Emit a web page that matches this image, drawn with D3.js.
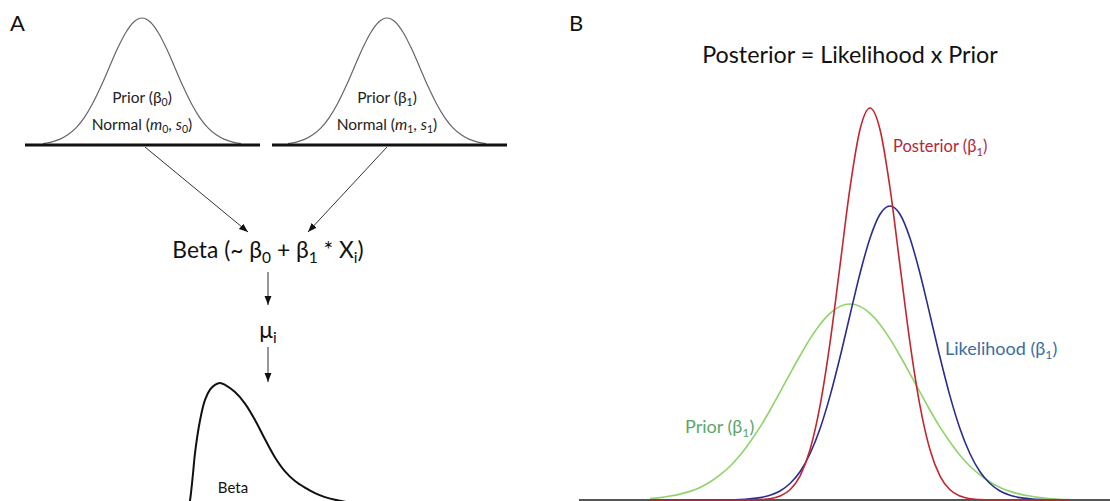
<!DOCTYPE html>
<html>
<head>
<meta charset="utf-8">
<script src="https://cdn.jsdelivr.net/npm/d3@7"></script>
<style>
  html, body { margin: 0; padding: 0; background: #fff; }
  svg { display: block; font-family: Lato, 'Open Sans', sans-serif; }
</style>
</head>
<body>
<svg id="chart"></svg>
<script>
var betaGrid = [-2.5, -2.375, -2.25, -2.125, -2, -1.875, -1.75, -1.625, -1.5, -1.375, -1.25, -1.125,
  -1, -0.875, -0.75, -0.625, -0.5, -0.375, -0.25, -0.125, 0, 0.125, 0.25, 0.375, 0.5, 0.625, 0.75,
  0.875, 1, 1.125, 1.25, 1.375, 1.5, 1.625, 1.75, 1.875, 2, 2.125, 2.25, 2.375, 2.5, 2.625, 2.75];
var priorB1 = [0.004, 0.006, 0.010, 0.015, 0.022, 0.032, 0.046, 0.064, 0.086, 0.114, 0.148, 0.186,
  0.229, 0.275, 0.322, 0.368, 0.411, 0.448, 0.476, 0.494, 0.500, 0.494, 0.476, 0.448, 0.411, 0.368, 0.322,
  0.275, 0.229, 0.186, 0.148, 0.114, 0.086, 0.064, 0.046, 0.032, 0.022, 0.015, 0.010, 0.006, 0.004, 0.002, 0.001];
var likelihoodB1 = [0, 0, 0, 0, 0, 0, 0, 0, 0, 0.001, 0.003, 0.006,
  0.012, 0.023, 0.042, 0.072, 0.118, 0.182, 0.265, 0.364, 0.472, 0.578, 0.668, 0.729, 0.750, 0.729, 0.668,
  0.578, 0.472, 0.364, 0.265, 0.182, 0.118, 0.072, 0.042, 0.023, 0.012, 0.006, 0.003, 0.001, 0, 0, 0];
var posteriorB1 = [0, 0, 0, 0, 0, 0, 0, 0, 0, 0, 0, 0.001,
  0.003, 0.010, 0.026, 0.061, 0.128, 0.240, 0.401, 0.598, 0.796, 0.945, 1.000, 0.945, 0.796, 0.598, 0.401,
  0.240, 0.128, 0.061, 0.026, 0.010, 0.003, 0.001, 0, 0, 0, 0, 0, 0, 0, 0, 0];

// panel A: the two prior bells share one shape (z in sd units, relative height)
var bellZ = [-3, -2.75, -2.5, -2.25, -2, -1.75, -1.5, -1.25, -1, -0.75, -0.5, -0.25, 0,
  0.25, 0.5, 0.75, 1, 1.25, 1.5, 1.75, 2, 2.25, 2.5, 2.75, 3];
var bellHeight = [0.011, 0.023, 0.044, 0.080, 0.135, 0.216, 0.325, 0.458, 0.607, 0.755, 0.882, 0.969, 1,
  0.969, 0.882, 0.755, 0.607, 0.458, 0.325, 0.216, 0.135, 0.080, 0.044, 0.023, 0.011];

// panel A: skewed beta density sketch
var betaU = [0.02, 0.025, 0.04, 0.05, 0.075, 0.1, 0.125, 0.15, 0.175, 0.2, 0.25, 0.3, 0.35, 0.4,
  0.45, 0.5, 0.55, 0.6, 0.65, 0.7, 0.75, 0.8, 0.85, 0.9, 0.95];
var betaDensity = [0, 0.03, 0.25, 0.42, 0.69, 0.86, 0.945, 0.985, 1, 0.985, 0.925, 0.83, 0.695, 0.535,
  0.385, 0.27, 0.19, 0.135, 0.09, 0.057, 0.035, 0.019, 0.009, 0.003, 0];

var priorNames = ['0', '1'];

var W = 1110, H = 501;
var svg = d3.select('#chart').attr('width', W).attr('height', H);

// arrow head
svg.append('defs').append('marker')
   .attr('id', 'arrow')
   .attr('viewBox', '0 0 10 10')
   .attr('refX', 10).attr('refY', 5)
   .attr('markerWidth', 9).attr('markerHeight', 9)
   .attr('markerUnits', 'userSpaceOnUse')
   .attr('orient', 'auto')
   .append('path')
   .attr('d', 'M0,1.2 L10,5 L0,8.8 z')
   .attr('fill', '#111');

// text with subscripts / italics: parts = [{t, sub, i}]
function rich(g, x, y, size, anchor, color, parts) {
  var t = g.append('text')
           .attr('x', x).attr('y', y)
           .attr('font-size', size + 'px')
           .attr('text-anchor', anchor)
           .attr('fill', color);
  var down = false;
  parts.forEach(function(p){
    var s = t.append('tspan').text(p.t);
    if (p.i) s.attr('font-style', 'italic');
    if (p.sub && !down) { s.attr('dy', size * 0.22); down = true; }
    else if (!p.sub && down) { s.attr('dy', -size * 0.22); down = false; }
    if (p.sub) s.attr('font-size', (size * 0.68) + 'px');
  });
  return t;
}

// ---------------- panel A ----------------
var gA = svg.append('g');
gA.append('text').text('A')
  .attr('x', 10).attr('y', 31)
  .attr('font-size', '22px').attr('fill', '#111');

var yBell = d3.scaleLinear().domain([0, 1]).range([145, 18]);
var bellCenters = [142, 387];
var bellBase = [[25, 260], [272, 507]];

priorNames.forEach(function(k, i){
  var xBell = d3.scaleLinear().domain([-1, 1]).range([bellCenters[i] - 33, bellCenters[i] + 33]);
  var line = d3.line()
               .x((d, j) => xBell(bellZ[j]))
               .y(d => yBell(d))
               .curve(d3.curveMonotoneX);
  gA.append('path')
    .attr('d', line(bellHeight))
    .attr('fill', 'none')
    .attr('stroke', '#666')
    .attr('stroke-width', 1.2);
  gA.append('line')
    .attr('x1', bellBase[i][0]).attr('x2', bellBase[i][1])
    .attr('y1', 145).attr('y2', 145)
    .attr('stroke', '#111').attr('stroke-width', 3);
  rich(gA, bellCenters[i], 103, 15.5, 'middle', '#222',
       [{t: 'Prior (β'}, {t: k, sub: true}, {t: ')'}]);
  rich(gA, bellCenters[i], 130, 15.5, 'middle', '#222',
       [{t: 'Normal ('}, {t: 'm', i: true}, {t: k, sub: true}, {t: ', '},
        {t: 's', i: true}, {t: k, sub: true}, {t: ')'}]);
});

// arrows into the linear predictor
var arrows = [[145, 147, 248, 232], [387, 147, 308, 232], [268, 272, 268, 305], [268, 347, 268, 382]];
gA.selectAll('line.arr')
  .data(arrows)
  .enter()
  .append('line')
  .attr('class', 'arr')
  .attr('x1', d => d[0]).attr('y1', d => d[1])
  .attr('x2', d => d[2]).attr('y2', d => d[3])
  .attr('stroke', '#333').attr('stroke-width', 1)
  .attr('marker-end', 'url(#arrow)');

rich(gA, 268, 258, 22.8, 'middle', '#111',
     [{t: 'Beta (~ β'}, {t: '0', sub: true}, {t: ' + β'}, {t: '1', sub: true},
      {t: ' * X'}, {t: 'i', sub: true}, {t: ')'}]);
rich(gA, 268, 338, 22.8, 'middle', '#111', [{t: 'μ'}, {t: 'i', sub: true}]);

var xBeta = d3.scaleLinear().domain([0, 1]).range([185, 385]);
var yBeta = d3.scaleLinear().domain([0, 1]).range([504, 383]);
gA.append('path')
  .attr('d', d3.line()
               .x((d, j) => xBeta(betaU[j]))
               .y(d => yBeta(d))
               .curve(d3.curveCatmullRom.alpha(0.5))(betaDensity))
  .attr('fill', 'none')
  .attr('stroke', '#111')
  .attr('stroke-width', 2);
gA.append('text').text('Beta')
  .attr('x', 233).attr('y', 493)
  .attr('text-anchor', 'middle')
  .attr('font-size', '15px').attr('fill', '#111');

// ---------------- panel B ----------------
var gB = svg.append('g');
gB.append('text').text('B')
  .attr('x', 569).attr('y', 31)
  .attr('font-size', '22px').attr('fill', '#111');
gB.append('text').text('Posterior = Likelihood x Prior')
  .attr('x', 850).attr('y', 63)
  .attr('text-anchor', 'middle')
  .attr('font-size', '23.3px').attr('fill', '#111');

var xB = d3.scaleLinear().domain([-3, 3]).range([610, 1090]);
var yB = d3.scaleLinear().domain([0, 1]).range([500, 108]);
var lineB = d3.line()
              .x((d, j) => xB(betaGrid[j]))
              .y(d => yB(d))
              .curve(d3.curveMonotoneX);

var series = [
  {name: 'Prior', values: priorB1, stroke: '#8fd46a', text: '#5aa56a', x: 685, y: 433, size: 18},
  {name: 'Likelihood', values: likelihoodB1, stroke: '#2b2d8e', text: '#3c6e9e', x: 945, y: 355, size: 18},
  {name: 'Posterior', values: posteriorB1, stroke: '#c4262e', text: '#b3283a', x: 893, y: 152, size: 16.5}
];

gB.append('line')
  .attr('x1', 579).attr('x2', W)
  .attr('y1', yB(0)).attr('y2', yB(0))
  .attr('stroke', '#555').attr('stroke-width', 2);

series.forEach(function(s){
  gB.append('path')
    .attr('d', lineB(s.values))
    .attr('fill', 'none')
    .attr('stroke', s.stroke)
    .attr('stroke-width', 1.6);
  rich(gB, s.x, s.y, s.size, 'start', s.text,
       [{t: s.name + ' (β'}, {t: '1', sub: true}, {t: ')'}]);
});
</script>
</body>
</html>
